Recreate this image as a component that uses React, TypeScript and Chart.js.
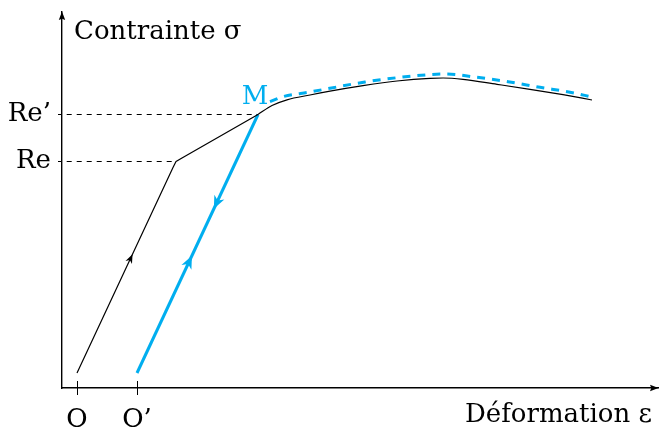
import React, { useEffect, useRef } from 'react';
import { Chart, registerables } from 'chart.js';

Chart.register(...registerables);

// Loading line O -> M (black, straight parts): strain / stress, arbitrary units
const loadStrain = [1.5, 11.1, 11.4, 12.0, 19.6];
const loadStress = [1.5, 22.04, 22.65, 23.01, 27.35];

// Rest of the curve after M (black, smooth)
const curveStrain = [19.6, 21.0, 22.5, 24.8, 26.8, 30.1, 33.5, 36.8, 38.1, 40.1, 43.5, 46.8, 50.1, 53.0];
const curveStress = [27.35, 28.25, 28.82, 29.3, 29.68, 30.23, 30.7, 30.97, 31.0, 30.87, 30.37, 29.87, 29.33, 28.8];

// Unloading / reloading line O' -> M (blue)
const reloadStrain = [7.5, 19.6];
const reloadStress = [1.5, 27.35];

// Curve after reloading (blue dashed)
const hardenStrain = [20.8, 22.1, 24.8, 27.1, 30.3, 33.5, 36.6, 38.3, 41.5, 44.6, 47.8, 50.8, 53.0];
const hardenStress = [28.63, 29.13, 29.6, 30.03, 30.6, 31.03, 31.33, 31.4, 31.07, 30.63, 30.07, 29.58, 29.1];

// Axis ticks
const xTickValues = [1.5, 7.5];
const xTickLabels = ['O', 'O’'];
const yTickValues = [22.65, 27.35];
const yTickLabels = ['Re', 'Re’'];
// Strain where each Re level meets the curve
const yieldStrain = [11.4, 19.6];

const xTitle = 'Déformation ε';
const yTitle = 'Contrainte σ';
const pointLabel = 'M';

const X_MAX = 59.6;
const Y_MAX = 37.6;
const BLUE = '#00AEEF';
const FONT = '"DejaVu Serif", serif';

function stealth(ctx: CanvasRenderingContext2D, tx: number, ty: number, dx: number, dy: number, len: number, hw: number, inset: number, color: string) {
  const n = Math.hypot(dx, dy);
  dx /= n; dy /= n;
  const bx = tx - dx * len, by = ty - dy * len;
  const px = -dy, py = dx;
  ctx.beginPath();
  ctx.moveTo(tx, ty);
  ctx.lineTo(bx + px * hw, by + py * hw);
  ctx.lineTo(tx - dx * len * (1 - inset), ty - dy * len * (1 - inset));
  ctx.lineTo(bx - px * hw, by - py * hw);
  ctx.closePath();
  ctx.fillStyle = color;
  ctx.fill();
}

const overlay = {
  id: 'overlay',
  afterDraw(chart: any) {
    const { ctx, chartArea: ca, scales } = chart;
    const xs = scales.x, ys = scales.y;
    const P = (sx: number, sy: number) => [xs.getPixelForValue(sx), ys.getPixelForValue(sy)];
    ctx.save();
    // axis arrowheads
    stealth(ctx, ca.left, ca.top - 0.5, 0, -1, 8.5, 3.2, 0.15, '#000');
    stealth(ctx, ca.right + 0.5, ca.bottom, 1, 0, 8.5, 3.2, 0.15, '#000');
    // x ticks crossing the axis
    ctx.strokeStyle = '#000';
    ctx.lineWidth = 1;
    xTickValues.forEach((v) => {
      const p = Math.round(xs.getPixelForValue(v) - 0.5) + 0.5;
      ctx.beginPath();
      ctx.moveTo(p, ca.bottom - 7);
      ctx.lineTo(p, ca.bottom + 7);
      ctx.stroke();
    });
    // direction arrows on the lines
    const seg = (a: number[], b: number[], f: number, rev: boolean, len: number, hw: number, color: string) => {
      const [x0, y0] = P(a[0], a[1]);
      const [x1, y1] = P(b[0], b[1]);
      const tx = x0 + (x1 - x0) * f, ty = y0 + (y1 - y0) * f;
      const dx = rev ? x0 - x1 : x1 - x0, dy = rev ? y0 - y1 : y1 - y0;
      stealth(ctx, tx, ty, dx, dy, len, hw, 0.3, color);
    };
    seg([loadStrain[0], loadStress[0]], [loadStrain[2], loadStress[2]], 0.561, false, 9, 3.6, '#000');
    seg([reloadStrain[0], reloadStress[0]], [reloadStrain[1], reloadStress[1]], 0.454, false, 13, 5.5, BLUE);
    seg([reloadStrain[0], reloadStress[0]], [reloadStrain[1], reloadStress[1]], 0.635, true, 13, 5.5, BLUE);
    // texts
    ctx.font = '26px ' + FONT;
    ctx.textBaseline = 'alphabetic';
    ctx.fillStyle = '#000';
    ctx.textAlign = 'left';
    ctx.fillText(yTitle, ca.left + 12, ca.top + 27);
    ctx.textAlign = 'right';
    ctx.fillText(xTitle, ca.right - 6, ca.bottom + 33.5);
    const [mx, my] = P(reloadStrain[1], reloadStress[1]);
    ctx.fillStyle = BLUE;
    ctx.textAlign = 'center';
    ctx.fillText(pointLabel, mx - 3, my - 11);
    ctx.restore();
  },
};

export default function App() {
  const ref = useRef<HTMLCanvasElement>(null);
  useEffect(() => {
    if (!ref.current) return;
    const line = (xsArr: number[], ysArr: number[]) => xsArr.map((x, i) => ({ x, y: ysArr[i] }));
    const reLines = yTickValues.map((v, i) => ({
      data: [{ x: 0.47, y: v }, { x: yieldStrain[i], y: v }],
      showLine: true,
      borderColor: '#000',
      borderWidth: 1,
      borderDash: [5, 5],
      pointRadius: 0,
      tension: 0,
    }));
    const chart = new Chart(ref.current, {
      type: 'scatter',
      data: {
        datasets: [
          ...reLines,
          {
            data: line(loadStrain, loadStress),
            showLine: true,
            borderColor: '#000',
            borderWidth: 1.2,
            pointRadius: 0,
            tension: 0,
            borderJoinStyle: 'round',
          },
          {
            data: line(curveStrain, curveStress),
            showLine: true,
            borderColor: '#000',
            borderWidth: 1.2,
            pointRadius: 0,
            cubicInterpolationMode: 'monotone',
          },
          {
            data: line(hardenStrain, hardenStress),
            showLine: true,
            borderColor: BLUE,
            borderWidth: 3,
            borderDash: [8, 7],
            pointRadius: 0,
            cubicInterpolationMode: 'monotone',
          },
          {
            data: line(reloadStrain, reloadStress),
            showLine: true,
            borderColor: BLUE,
            borderWidth: 3,
            pointRadius: 0,
            tension: 0,
          },
        ] as any,
      },
      options: {
        responsive: false,
        animation: false,
        devicePixelRatio: 1,
        layout: { padding: { top: 12, right: 1, left: 0, bottom: 0 } },
        plugins: { legend: { display: false }, tooltip: { enabled: false } },
        scales: {
          x: {
            type: 'linear',
            min: 0,
            max: X_MAX,
            grid: { display: true, drawOnChartArea: false, drawTicks: true, tickLength: 7, tickColor: '#000', tickWidth: 1 },
            border: { display: true, color: '#000', width: 1.4 },
            ticks: {
              autoSkip: false,
              maxRotation: 0,
              padding: 10,
              color: '#000',
              font: { family: FONT, size: 26 },
              callback: (_v: any, i: number) => xTickLabels[i],
            },
            afterBuildTicks: (s: any) => { s.ticks = xTickValues.map((value) => ({ value })); },
            afterFit: (s: any) => { s.height = 42; s.paddingLeft = 0; s.paddingRight = 0; s.paddingTop = 0; s.paddingBottom = 0; },
          },
          y: {
            type: 'linear',
            min: 0,
            max: Y_MAX,
            grid: { display: true, drawOnChartArea: false, drawTicks: true, tickLength: 4, tickColor: '#000', tickWidth: 1 },
            border: { display: true, color: '#000', width: 1.4 },
            ticks: {
              autoSkip: false,
              padding: 7,
              color: '#000',
              font: { family: FONT, size: 26 },
              callback: (_v: any, i: number) => yTickLabels[i],
            },
            afterBuildTicks: (s: any) => { s.ticks = yTickValues.map((value) => ({ value })); },
            afterFit: (s: any) => { s.width = 62; s.paddingLeft = 0; s.paddingRight = 0; s.paddingTop = 0; s.paddingBottom = 0; },
          },
        },
      } as any,
      plugins: [overlay],
    });
    return () => chart.destroy();
  }, []);
  return (
    <div style={{ position: 'fixed', left: 0, top: 0, width: 659, height: 430, background: '#fff' }}>
      <canvas ref={ref} width={659} height={430} />
    </div>
  );
}
